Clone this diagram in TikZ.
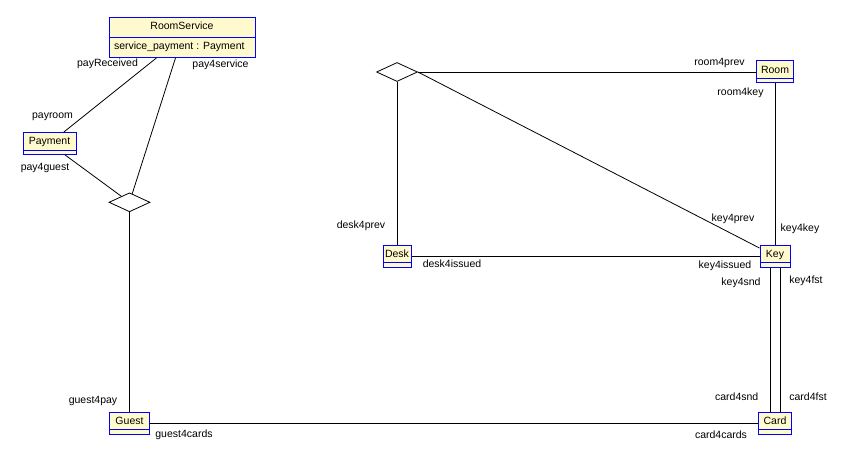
\documentclass[tikz,border=0pt]{standalone}
\usepackage{fontspec}
\setmainfont{Liberation Sans}
\usetikzlibrary{shapes.geometric,shapes.multipart}

\definecolor{classfill}{HTML}{FFFACD}
\definecolor{classline}{HTML}{0000FF}
\newcommand{\cstrut}{\rule[-3pt]{0pt}{11pt}}

\begin{document}
\begin{tikzpicture}[
    x=1pt, y=-1pt,
    font=\fontsize{10.5}{12}\selectfont,
    cls/.style={rectangle, draw=classline, fill=classfill, line width=1pt,
                inner xsep=0pt, inner ysep=3pt,
                text height=9.5pt, text depth=6.5pt,
                path picture={\draw[classline, line width=1pt]
                  ([yshift=4.5pt]path picture bounding box.south west) --
                  ([yshift=4.5pt]path picture bounding box.south east);}},
    attrcls/.style={rectangle split, rectangle split parts=2,
                draw=classline, fill=classfill, line width=1pt,
                inner xsep=5pt, inner ysep=4pt, minimum width=146pt,
                rectangle split part align={center,left}},
    assoc/.style={diamond, draw=black, fill=white, line width=0.8pt,
                  minimum width=41pt, minimum height=19pt, inner sep=0pt},
    role/.style={inner sep=0pt},
    link/.style={draw=black, line width=0.8pt}
]
\useasboundingbox (0,0) rectangle (847,460);

%–––– CLASSES –––––––––––––––––––––––––––––––––––––––
\node (rs) [attrcls] at (182,37.5)
  {\cstrut RoomService \nodepart{two} \cstrut service\_payment : Payment};
\node (pay)   [cls, minimum width=53pt] at (49.5,143.5) {Payment};
\node (room)  [cls, minimum width=37pt] at (775,72)     {Room};
\node (desk)  [cls, minimum width=28pt] at (397,256)    {Desk};
\node (key)   [cls, minimum width=30pt] at (775,256)    {Key};
\node (guest) [cls, minimum width=40pt] at (129.5,423)  {Guest};
\node (card)  [cls, minimum width=33pt] at (775,423)    {Card};

%–––– N-ARY ASSOCIATIONS ––––––––––––––––––––––––––––
\node (dl) [assoc] at (129.5,202.3) {};
\node (dr) [assoc] at (397,72) {};

%–––– LINKS –––––––––––––––––––––––––––––––––––––––––
\foreach \a/\b in {rs/pay, rs/dl, pay/dl, dl/guest, guest/card,
                   dr/room, dr/desk, room/key, desk/key}
  \draw[link] (\a) -- (\b);
\draw[link] (dr.east) -- (key);
\draw[link] ([xshift=-4.5pt]key.south) -- ([xshift=-4.5pt]card.north);
\draw[link] ([xshift=5pt]key.south) -- ([xshift=5pt]card.north);

%–––– ROLE NAMES ––––––––––––––––––––––––––––––––––––
\node (lpayrec)     [role] at (107.5,63.3) {payReceived};
\node (lpay4svc)    [role] at (220.5,64.3) {pay4service};
\node (lpayroom)    [role] at (52.5,116.7) {payroom};
\node (lpay4guest)  [role] at (45,168.3)   {pay4guest};
\node (lroom4prev)  [role] at (719.5,63.3) {room4prev};
\node (lroom4key)   [role] at (740.5,92.3) {room4key};
\node (ldesk4prev)  [role] at (361,226)    {desk4prev};
\node (lkey4prev)   [role] at (733,218.3)  {key4prev};
\node (lkey4key)    [role] at (800,228.3)  {key4key};
\node (ldesk4iss)   [role] at (452,264)    {desk4issued};
\node (lkey4iss)    [role] at (725,266)    {key4issued};
\node (lkey4snd)    [role] at (741,282.7)  {key4snd};
\node (lkey4fst)    [role] at (806,281)    {key4fst};
\node (lguest4pay)  [role] at (93,401)     {guest4pay};
\node (lguest4card) [role] at (184,434.5)  {guest4cards};
\node (lcard4snd)   [role] at (736.7,396.7) {card4snd};
\node (lcard4fst)   [role] at (808,396.7)  {card4fst};
\node (lcard4cards) [role] at (721,434.5)  {card4cards};
\end{tikzpicture}
\end{document}
